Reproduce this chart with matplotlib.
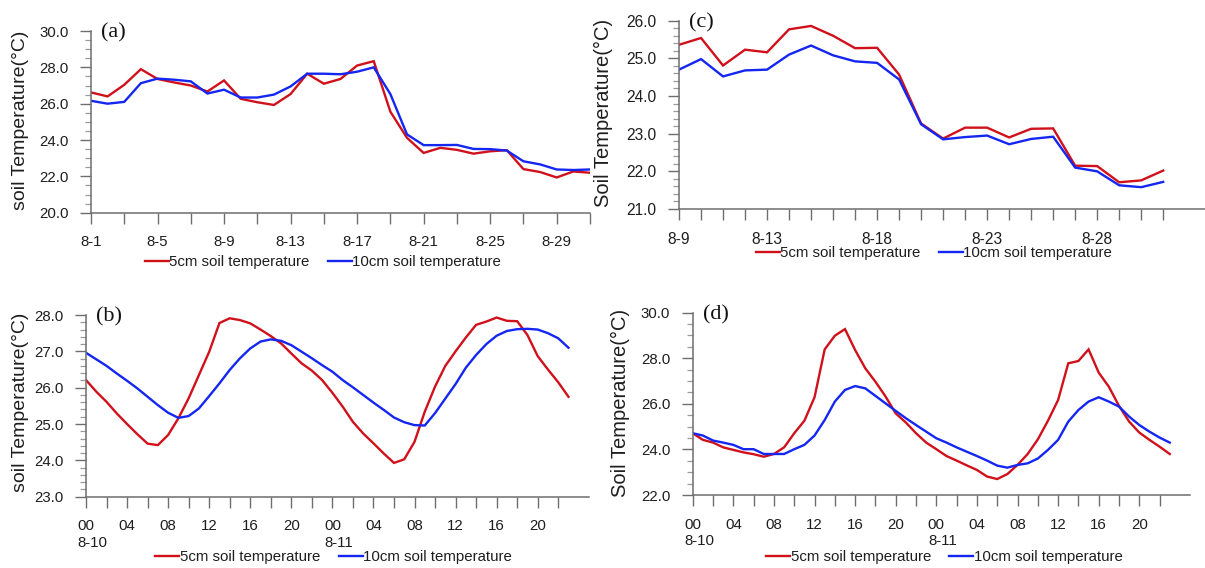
import matplotlib
matplotlib.use("Agg")
import matplotlib.pyplot as plt
from matplotlib.ticker import MultipleLocator, FormatStrFormatter
import numpy as np

plt.rcParams['font.family'] = ['Liberation Sans', 'DejaVu Sans']

RED = '#d0111c'
BLUE = '#1426f2'
AXIS_GRAY = '#6e6e6e'
TEXT = '#1e1e1e'

# --- (a) daily means, August 1-31 ---
days_a = list(range(1, 32))
a_5cm = [26.62, 26.40, 27.04, 27.90, 27.36, 27.17, 27.00, 26.67, 27.28, 26.27,
         26.08, 25.93, 26.53, 27.65, 27.10, 27.36, 28.10, 28.34, 25.56, 24.12,
         23.29, 23.57, 23.46, 23.25, 23.38, 23.44, 22.40, 22.24, 21.94, 22.27,
         22.20]
a_10cm = [26.16, 26.00, 26.10, 27.13, 27.38, 27.32, 27.23, 26.56, 26.77, 26.34,
          26.34, 26.50, 26.95, 27.65, 27.65, 27.62, 27.76, 28.00, 26.53, 24.31,
          23.72, 23.72, 23.73, 23.51, 23.50, 23.42, 22.83, 22.66, 22.38, 22.35,
          22.38]
a_ticklabels = {1: '8-1', 5: '8-5', 9: '8-9', 13: '8-13', 17: '8-17',
                21: '8-21', 25: '8-25', 29: '8-29'}

# --- (c) daily means, August 9-31 ---
days_c = list(range(9, 32))
c_5cm = [25.36, 25.54, 24.81, 25.23, 25.16, 25.77, 25.86, 25.60, 25.27, 25.28,
         24.57, 23.27, 22.87, 23.16, 23.16, 22.90, 23.13, 23.14, 22.15, 22.14,
         21.71, 21.76, 22.02]
c_10cm = [24.70, 24.98, 24.52, 24.68, 24.70, 25.10, 25.34, 25.08, 24.92, 24.88,
          24.44, 23.25, 22.85, 22.91, 22.95, 22.72, 22.86, 22.92, 22.10, 22.00,
          21.63, 21.58, 21.72]
c_ticklabels = {9: '8-9', 13: '8-13', 18: '8-18', 23: '8-23', 28: '8-28'}

# --- (b) and (d) hourly values, 8-10 00:00 to 8-11 23:00 ---
hours = list(range(48))
b_5cm = [26.21, 25.89, 25.61, 25.29, 25.00, 24.72, 24.46, 24.42, 24.70, 25.16,
         25.71, 26.35, 26.99, 27.78, 27.91, 27.86, 27.77, 27.60, 27.42, 27.22,
         26.94, 26.67, 26.47, 26.21, 25.86, 25.48, 25.06, 24.74, 24.47, 24.19,
         23.93, 24.03, 24.51, 25.34, 26.03, 26.60, 27.00, 27.38, 27.73, 27.82,
         27.93, 27.84, 27.83, 27.45, 26.87, 26.50, 26.15, 25.75]
b_10cm = [26.96, 26.78, 26.60, 26.39, 26.19, 25.98, 25.75, 25.52, 25.31, 25.17,
          25.22, 25.43, 25.77, 26.12, 26.49, 26.81, 27.08, 27.27, 27.33, 27.29,
          27.17, 26.99, 26.81, 26.62, 26.44, 26.21, 26.01, 25.80, 25.59, 25.39,
          25.18, 25.05, 24.97, 24.96, 25.30, 25.70, 26.10, 26.55, 26.90, 27.20,
          27.43, 27.56, 27.61, 27.62, 27.60, 27.50, 27.36, 27.10]
d_5cm = [24.71, 24.42, 24.30, 24.09, 23.98, 23.87, 23.79, 23.68, 23.80, 24.09,
         24.71, 25.26, 26.29, 28.39, 28.99, 29.28, 28.36, 27.56, 26.97, 26.32,
         25.58, 25.18, 24.71, 24.30, 24.01, 23.71, 23.51, 23.30, 23.10, 22.81,
         22.70, 22.92, 23.32, 23.80, 24.44, 25.26, 26.17, 27.78, 27.88, 28.39,
         27.37, 26.75, 25.91, 25.22, 24.74, 24.42, 24.12, 23.80]
d_10cm = [24.71, 24.61, 24.39, 24.30, 24.20, 24.01, 24.01, 23.80, 23.80, 23.80,
          24.01, 24.20, 24.61, 25.29, 26.10, 26.61, 26.78, 26.68, 26.35, 26.02,
          25.69, 25.37, 25.07, 24.78, 24.49, 24.30, 24.09, 23.90, 23.71, 23.51,
          23.29, 23.20, 23.32, 23.39, 23.60, 23.98, 24.42, 25.22, 25.73, 26.10,
          26.29, 26.10, 25.88, 25.44, 25.07, 24.78, 24.52, 24.30]
hour_ticklabels = ['00', '04', '08', '12', '16', '20'] * 2
date_labels = {0: '8-10', 24: '8-11'}

series_names = ['5cm soil temperature', '10cm soil temperature']


def style_axes(ax, ylim, ymajor, yminor, label_size=10.8):
    for side in ['top', 'right']:
        ax.spines[side].set_visible(False)
    for side in ['left', 'bottom']:
        ax.spines[side].set_color(AXIS_GRAY)
        ax.spines[side].set_linewidth(1.1)
    ax.set_ylim(*ylim)
    ax.yaxis.set_major_locator(MultipleLocator(ymajor))
    ax.yaxis.set_minor_locator(MultipleLocator(yminor))
    ax.yaxis.set_major_formatter(FormatStrFormatter('%.1f'))
    ax.tick_params(which='major', direction='out', length=7.7, width=1.0,
                   color=AXIS_GRAY, pad=8.5, labelsize=label_size, labelcolor=TEXT)
    ax.tick_params(axis='y', which='minor', direction='out', length=4.0,
                   width=0.9, color='#9a9a9a')
    ax.tick_params(axis='x', which='minor', bottom=False)


def draw_pair(ax, x, y5, y10):
    l5, = ax.plot(x, y5, color=RED, lw=1.7, solid_joinstyle='miter')
    l10, = ax.plot(x, y10, color=BLUE, lw=1.7, solid_joinstyle='miter')
    return l5, l10


def panel_tag(ax, tag):
    ax.annotate(tag, xy=(0, 1), xycoords='axes fraction', xytext=(7.5, -1.5),
                textcoords='offset points', ha='left', va='center',
                fontsize=16, family=['Liberation Serif', 'DejaVu Serif'], color='#111111')


def add_legend(ax, handles, cx, cy):
    ax.legend(handles, series_names, loc='center', bbox_to_anchor=(cx, cy),
              bbox_transform=fig.transFigure, ncol=2, frameon=False,
              fontsize=10.8, handlelength=1.6, handletextpad=0.05,
              columnspacing=1.2, labelcolor=TEXT)


fig = plt.figure(figsize=(12.05, 5.68), dpi=100)

# 1. Panel (a)
ax_a = fig.add_axes([0.0755, 0.6255, 0.4141, 0.3199])
h = draw_pair(ax_a, days_a, a_5cm, a_10cm)
style_axes(ax_a, (20, 30), 2, 0.5)
ax_a.set_xlim(1, 30.6)
ax_a.set_xticks(days_a[::2])
ax_a.set_xticklabels([a_ticklabels.get(d, '') for d in days_a[::2]])
panel_tag(ax_a, '(a)')
add_legend(ax_a, h, 0.268, 0.539)

# 2. Panel (c)
ax_c = fig.add_axes([0.5635, 0.6320, 0.4365, 0.3316])
h = draw_pair(ax_c, days_c, c_5cm, c_10cm)
style_axes(ax_c, (21, 26), 1, 0.2, label_size=11.2)
ax_c.set_xlim(9, 32.9)
ax_c.set_xticks(days_c)
ax_c.set_xticklabels([c_ticklabels.get(d, '') for d in days_c])
panel_tag(ax_c, '(c)')
add_legend(ax_c, h, 0.775, 0.555)

# 3. Panels (b) and (d), hourly
hour_axes = []
for rect, y5, y10, ylim, ymaj, ymin, tag, cx in [
        ([0.0714, 0.1255, 0.4174, 0.3199], b_5cm, b_10cm, (23, 28), 1, 0.2, '(b)', 0.277),
        ([0.5749, 0.1285, 0.4127, 0.3210], d_5cm, d_10cm, (22, 30), 2, 0.5, '(d)', 0.784)]:
    ax = fig.add_axes(rect)
    h = draw_pair(ax, hours, y5, y10)
    style_axes(ax, ylim, ymaj, ymin)
    ax.set_xlim(0, 49.0)
    ax.set_xticks(hours[::2])
    ax.set_xticklabels([hour_ticklabels[i // 4] if i % 4 == 0 else '' for i in hours[::2]])
    # date line under the first hour of each day
    for hr, lab in date_labels.items():
        ax.annotate(lab, xy=(hr, 0), xycoords=('data', 'axes fraction'),
                    xytext=(4.5, -33), textcoords='offset points',
                    ha='center', va='center', fontsize=10.8, color=TEXT)
    panel_tag(ax, tag)
    add_legend(ax, h, cx, 0.019)
    hour_axes.append(ax)

# 4. Y-axis titles
fig.text(21 / 1205, 1 - 120 / 568, 'soil Temperature(°C)', rotation=90,
         ha='center', va='center', fontsize=14, color=TEXT)
fig.text(21 / 1205, 1 - 402 / 568, 'soil Temperature(°C)', rotation=90,
         ha='center', va='center', fontsize=14, color=TEXT)
fig.text(603 / 1205, 1 - 113 / 568, 'Soil Temperature(°C)', rotation=90,
         ha='center', va='center', fontsize=14.5, color=TEXT)
fig.text(620 / 1205, 1 - 403 / 568, 'Soil Temperature(°C)', rotation=90,
         ha='center', va='center', fontsize=14.5, color=TEXT)

fig.savefig('out.png', dpi=100)
plt.close()
